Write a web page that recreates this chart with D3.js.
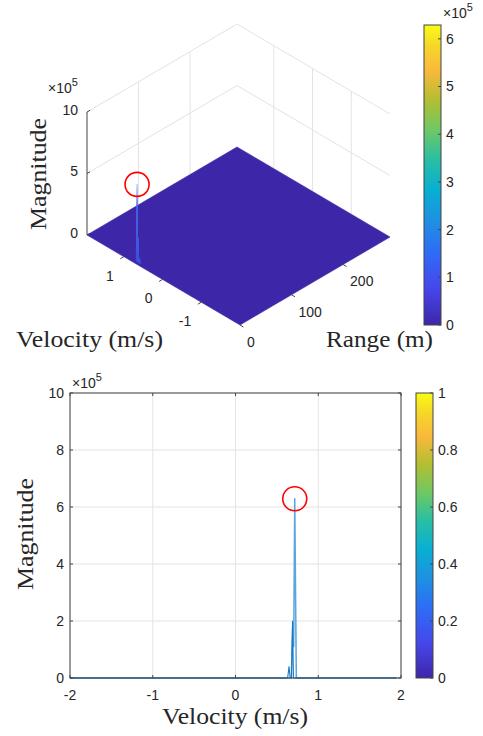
<!DOCTYPE html>
<html>
<head>
<meta charset="utf-8">
<script src="https://cdn.jsdelivr.net/npm/d3@7"></script>
<style>
  html, body { margin: 0; padding: 0; background: #fff; }
  svg { display: block; }
  .tick-label { font-family: "Liberation Sans", Arial, sans-serif; font-size: 14px; fill: #262626; }
  .ax-label { font-family: "Liberation Serif", "Times New Roman", serif; font-size: 23px; fill: #262626; }
</style>
</head>
<body>
<svg id="chart" width="483" height="736"></svg>
<script>
// ---- data ----------------------------------------------------------------
// Range-Doppler profile (magnitude in units of 1e5) across velocity bins
const velocityMain  = [-2.0, 0.675, 0.692, 0.703, 0.716, 0.735, 1.95];
const magnitudeMain = [0, 0, 1.95, 1.1, 6.29, 0, 0];
const velocitySide  = [-2.0, 0.630, 0.647, 0.660, 0.676, 0.690, 0.700, 1.95];
const magnitudeSide = [0, 0, 0.4, 0.02, 0, 2.0, 0, 0];
// range bin (m) where the target return sits in the range-Doppler map
const targetRange = [4.4];

// axis extents and ticks
const velocityDomain = [-2.0, 1.95];
const rangeDomain = [0, 291];
const surfVelocityTicks = [1, 0, -1];
const surfRangeTicks = [0, 100, 200];
const surfMagTicks = [0, 5, 10];
const cbar1Ticks = [0, 1, 2, 3, 4, 5, 6];
const lineVelocityTicks = [-2, -1, 0, 1, 2];
const lineMagTicks = [0, 2, 4, 6, 8, 10];
const cbar2Ticks = [0, 0.2, 0.4, 0.6, 0.8, 1];

// parula colormap anchors
const parulaStops = ["#3e26a8", "#4646eb", "#2d6ef5", "#1e91e1", "#08afd2",
                     "#28bea5", "#6ec864", "#b4be32", "#fab93c", "#f5d728", "#f9fb14"];
const parulaPos = [0, 0.12, 0.25, 0.35, 0.45, 0.55, 0.65, 0.75, 0.85, 0.93, 1];

// ---- setup ---------------------------------------------------------------
const svg = d3.select("#chart");
svg.append("rect").attr("width", 483).attr("height", 736).attr("fill", "#fff");
const defs = svg.append("defs");
const gridCol = "#e3e3e3";
const axisCol = "#444";
const peak = d3.max(magnitudeMain.concat(magnitudeSide));

function addColorbarGradient(id) {
  const g = defs.append("linearGradient").attr("id", id)
    .attr("x1", 0).attr("y1", 1).attr("x2", 0).attr("y2", 0);
  parulaStops.forEach((c, i) => g.append("stop").attr("offset", parulaPos[i]).attr("stop-color", c));
}
addColorbarGradient("parula1");
addColorbarGradient("parula2");

function exponentLabel(sel, x, y) {
  const t = sel.append("text").attr("class", "tick-label").attr("x", x).attr("y", y);
  t.append("tspan").text("\u00d710");
  t.append("tspan").attr("dy", -7).attr("font-size", 11).text("5");
}

// ======================= 3-D surface (top) ================================
const cornerL = [87, 235], cornerF = [240, 325], cornerR = [390, 237];
const vFrac = d3.scaleLinear().domain([velocityDomain[1], velocityDomain[0]]).range([0, 1]);
const rFrac = d3.scaleLinear().domain(rangeDomain).range([0, 1]);
const zPix = d3.scaleLinear().domain([0, 10]).range([0, 123]);

function proj(v, r, z) {
  const a = vFrac(v), b = rFrac(r);
  return [
    cornerL[0] + a * (cornerF[0] - cornerL[0]) + b * (cornerR[0] - cornerF[0]),
    cornerL[1] + a * (cornerF[1] - cornerL[1]) + b * (cornerR[1] - cornerF[1]) - zPix(z)
  ];
}
const line = d3.line();
const top3d = svg.append("g");
const vMax = velocityDomain[1], vMin = velocityDomain[0];
const rMax = rangeDomain[1];

// back-wall grid: horizontal at z ticks above zero
surfMagTicks.filter(z => z > 0).forEach(z => {
  top3d.append("path")
    .attr("d", line([proj(vMax, 0, z), proj(vMax, rMax, z), proj(vMin, rMax, z)]))
    .attr("fill", "none").attr("stroke", gridCol).attr("stroke-width", 1);
});
// vertical grid on the velocity-max wall (range ticks)
surfRangeTicks.filter(r => r > 0).forEach(r => {
  top3d.append("path").attr("d", line([proj(vMax, r, 0), proj(vMax, r, 10)]))
    .attr("stroke", gridCol).attr("stroke-width", 1);
});
// vertical grid on the range-max wall (velocity ticks)
surfVelocityTicks.forEach(v => {
  top3d.append("path").attr("d", line([proj(v, rMax, 0), proj(v, rMax, 10)]))
    .attr("stroke", gridCol).attr("stroke-width", 1);
});

// z axis
top3d.append("path").attr("d", line([proj(vMax, 0, 0), proj(vMax, 0, 10)]))
  .attr("stroke", axisCol).attr("stroke-width", 1);
surfMagTicks.forEach(z => {
  const p = proj(vMax, 0, z);
  top3d.append("path").attr("d", line([p, [p[0] + 3, p[1] - 1.7]]))
    .attr("stroke", axisCol).attr("stroke-width", 1);
  top3d.append("text").attr("class", "tick-label")
    .attr("x", p[0] - 9).attr("y", p[1] - 2).attr("dy", "0.35em")
    .attr("text-anchor", "end").text(z);
});
exponentLabel(top3d, 48, 93);

// floor surface (magnitude ~0 everywhere)
top3d.append("path")
  .attr("d", line([proj(vMax, 0, 0), proj(vMin, 0, 0), proj(vMin, rMax, 0), proj(vMax, rMax, 0)]) + "Z")
  .attr("fill", parulaStops[0]).attr("stroke", parulaStops[0]).attr("stroke-width", 0.6);

// target ridge rising out of the floor at the target range bin
const ridgeGrad = defs.append("linearGradient").attr("id", "ridge")
  .attr("gradientUnits", "userSpaceOnUse")
  .attr("x1", 0).attr("x2", 0)
  .attr("y1", proj(0.7, targetRange[0], 0)[1]).attr("y2", proj(0.7, targetRange[0], peak)[1]);
ridgeGrad.append("stop").attr("offset", 0).attr("stop-color", "#3a4fd8");
ridgeGrad.append("stop").attr("offset", 0.75).attr("stop-color", "#4c6cf0");
ridgeGrad.append("stop").attr("offset", 1).attr("stop-color", "#aab8f4");
[[velocitySide, magnitudeSide], [velocityMain, magnitudeMain]].forEach(([vs, ms]) => {
  const pts = vs.map((v, i) => proj(v, targetRange[0], ms[i]))
    .filter((p, i) => vs[i] > 0.5 && vs[i] < 0.9);
  top3d.append("path").attr("d", line(pts))
    .attr("fill", "url(#ridge)").attr("stroke", "url(#ridge)").attr("stroke-width", 1.1)
    .attr("stroke-linejoin", "round");
});
// marker circle on the peak
const pkMain = magnitudeMain.indexOf(d3.max(magnitudeMain));
const pk3d = proj(velocityMain[pkMain], targetRange[0], magnitudeMain[pkMain]);
top3d.append("circle").attr("cx", pk3d[0]).attr("cy", pk3d[1]).attr("r", 12)
  .attr("fill", "none").attr("stroke", "#ff0000").attr("stroke-width", 1.6);

// velocity axis ticks (front-left edge)
surfVelocityTicks.forEach(v => {
  const p = proj(v, 0, 0);
  top3d.append("path").attr("d", line([p, [p[0] - 3.4, p[1] + 2]]))
    .attr("stroke", axisCol).attr("stroke-width", 1);
  top3d.append("text").attr("class", "tick-label")
    .attr("x", p[0] - 10).attr("y", p[1] + 19).attr("dy", "0.35em")
    .attr("text-anchor", "end").text(v);
});
// range axis ticks (front-right edge)
surfRangeTicks.forEach(r => {
  const p = proj(vMin, r, 0);
  top3d.append("path").attr("d", line([p, [p[0] + 3.4, p[1] + 2]]))
    .attr("stroke", axisCol).attr("stroke-width", 1);
  top3d.append("text").attr("class", "tick-label")
    .attr("x", p[0] + 7).attr("y", p[1] + 17).attr("dy", "0.35em")
    .attr("text-anchor", "start").text(r);
});

// axis labels
top3d.append("text").attr("class", "ax-label").attr("x", 16).attr("y", 347)
  .attr("textLength", 147).attr("lengthAdjust", "spacingAndGlyphs").text("Velocity (m/s)");
top3d.append("text").attr("class", "ax-label").attr("x", 326).attr("y", 347)
  .attr("textLength", 107).attr("lengthAdjust", "spacingAndGlyphs").text("Range (m)");
top3d.append("text").attr("class", "ax-label")
  .attr("transform", "translate(46,230) rotate(-90)")
  .attr("textLength", 112).attr("lengthAdjust", "spacingAndGlyphs").text("Magnitude");

// colorbar for the surface
const cb1 = svg.append("g");
const cb1Scale = d3.scaleLinear().domain([0, peak]).range([325, 25]);
cb1.append("rect").attr("x", 424).attr("y", 25).attr("width", 17).attr("height", 300)
  .attr("fill", "url(#parula1)").attr("stroke", axisCol).attr("stroke-width", 1);
cbar1Ticks.forEach(t => {
  const y = cb1Scale(t);
  cb1.append("line").attr("x1", 441).attr("x2", 438).attr("y1", y).attr("y2", y)
    .attr("stroke", axisCol);
  cb1.append("text").attr("class", "tick-label").attr("x", 446).attr("y", y).attr("dy", "0.35em").text(t);
});
exponentLabel(cb1, 443, 18);

// ======================= 2-D velocity profile (bottom) ====================
const x0 = 70, x1 = 401, y0 = 393, y1 = 678;
const xs = d3.scaleLinear().domain([-2, 2]).range([x0, x1]);
const ys = d3.scaleLinear().domain([0, 10]).range([y1, y0]);
const bot = svg.append("g");

// grid
lineVelocityTicks.forEach(t => bot.append("line")
  .attr("x1", xs(t)).attr("x2", xs(t)).attr("y1", y0).attr("y2", y1)
  .attr("stroke", gridCol).attr("stroke-width", 1));
lineMagTicks.forEach(t => bot.append("line")
  .attr("x1", x0).attr("x2", x1).attr("y1", ys(t)).attr("y2", ys(t))
  .attr("stroke", gridCol).attr("stroke-width", 1));

// profile lines
const pline = d3.line().x(d => xs(d[0])).y(d => ys(d[1]));
bot.append("path").datum(velocityMain.map((v, i) => [v, magnitudeMain[i]]))
  .attr("d", pline).attr("fill", "none").attr("stroke", "#5aa6dd").attr("stroke-width", 1.5)
  .attr("stroke-linejoin", "round");
bot.append("path").datum(velocitySide.map((v, i) => [v, magnitudeSide[i]]))
  .attr("d", pline).attr("fill", "none").attr("stroke", "#1a78c2").attr("stroke-width", 1.1)
  .attr("stroke-linejoin", "round");

// box + ticks
bot.append("rect").attr("x", x0).attr("y", y0).attr("width", x1 - x0).attr("height", y1 - y0)
  .attr("fill", "none").attr("stroke", axisCol).attr("stroke-width", 1);
lineVelocityTicks.forEach(t => {
  const x = xs(t);
  bot.append("line").attr("x1", x).attr("x2", x).attr("y1", y1).attr("y2", y1 - 3).attr("stroke", axisCol);
  bot.append("line").attr("x1", x).attr("x2", x).attr("y1", y0).attr("y2", y0 + 3).attr("stroke", axisCol);
  bot.append("text").attr("class", "tick-label").attr("x", x).attr("y", y1 + 17)
    .attr("dy", "0.35em").attr("text-anchor", "middle").text(t);
});
lineMagTicks.forEach(t => {
  const y = ys(t);
  bot.append("line").attr("x1", x0).attr("x2", x0 + 3).attr("y1", y).attr("y2", y).attr("stroke", axisCol);
  bot.append("line").attr("x1", x1).attr("x2", x1 - 3).attr("y1", y).attr("y2", y).attr("stroke", axisCol);
  bot.append("text").attr("class", "tick-label").attr("x", x0 - 6).attr("y", y)
    .attr("dy", "0.35em").attr("text-anchor", "end").text(t);
});
exponentLabel(bot, 72, 388);

// peak marker
bot.append("circle").attr("cx", xs(velocityMain[pkMain])).attr("cy", ys(magnitudeMain[pkMain])).attr("r", 12)
  .attr("fill", "none").attr("stroke", "#ff0000").attr("stroke-width", 1.6);

// labels
bot.append("text").attr("class", "ax-label").attr("x", 162).attr("y", 724)
  .attr("textLength", 146).attr("lengthAdjust", "spacingAndGlyphs").text("Velocity (m/s)");
bot.append("text").attr("class", "ax-label")
  .attr("transform", "translate(33,590) rotate(-90)")
  .attr("textLength", 112).attr("lengthAdjust", "spacingAndGlyphs").text("Magnitude");

// colorbar (0..1)
const cb2 = svg.append("g");
const cb2Scale = d3.scaleLinear().domain([0, 1]).range([y1, y0]);
cb2.append("rect").attr("x", 416).attr("y", y0).attr("width", 17).attr("height", y1 - y0)
  .attr("fill", "url(#parula2)").attr("stroke", axisCol).attr("stroke-width", 1);
cbar2Ticks.forEach(t => {
  const y = cb2Scale(t);
  cb2.append("line").attr("x1", 433).attr("x2", 430).attr("y1", y).attr("y2", y).attr("stroke", axisCol);
  cb2.append("text").attr("class", "tick-label").attr("x", 438).attr("y", y).attr("dy", "0.35em").text(t);
});
</script>
</body>
</html>
